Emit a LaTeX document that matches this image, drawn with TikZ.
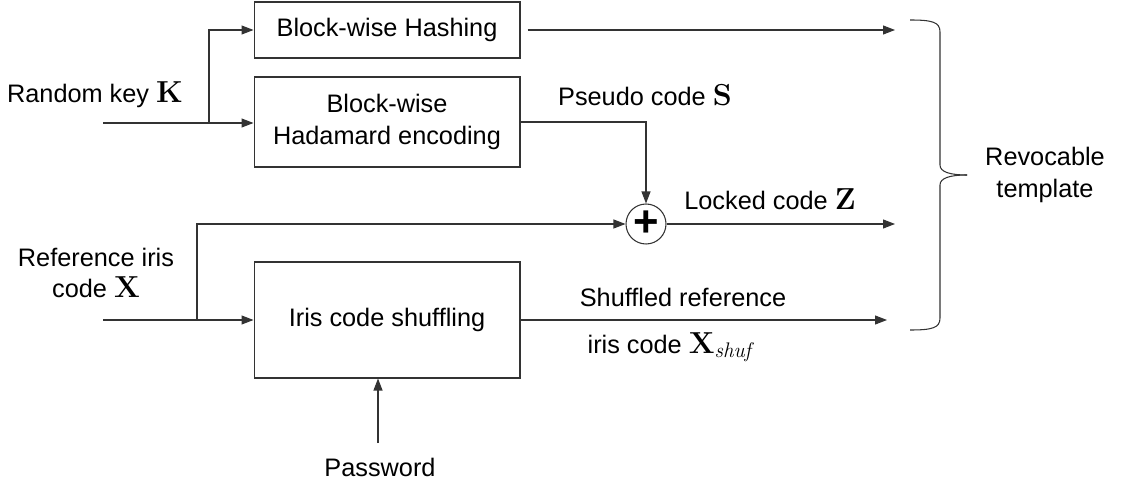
\documentclass[tikz,border=0pt]{standalone}
\usepackage{amsmath}
\usepackage[no-math]{fontspec}
\setmainfont{Liberation Sans}
\usetikzlibrary{arrows.meta}
\usetikzlibrary{positioning}

\newcommand{\bigsym}[1]{{\LARGE$\mathbf{#1}$}}

\begin{document}
\begin{tikzpicture}[x=0.02cm,y=-0.02cm,>={Triangle[length=2.4mm,width=1.8mm]},
                line width=0.6pt,draw=black!80,font=\Large,
                block/.style={rectangle,draw,minimum width=5.32cm,align=center},
                sum node/.style={circle,draw,minimum size=0.8cm,inner sep=0pt,font=\Huge\bfseries},
                label node/.style={align=center,inner sep=1pt}]

        \useasboundingbox (0,0) rectangle (1125,489);

        % blocks
        \node[block,minimum height=1.12cm] (hash) at (387,30) {Block-wise Hashing};
        \node[block,minimum height=1.8cm] (hada) at (387,122) {Block-wise\\Hadamard encoding};
        \node[block,minimum height=2.32cm] (shuf) at (387,320) {Iris code shuffling};
        \node[sum node] (xor) at (646,224) {+};

        % labels
        \node[label node] (key) at (95,95) {Random key \bigsym{K}};
        \node[label node] (ref) at (96,273) {Reference iris\\code \bigsym{X}};
        \node[label node] (pseudo) at (645,95) {Pseudo code \bigsym{S}};
        \node[label node] (locked) at (770,199) {Locked code \bigsym{Z}};
        \node[label node] (shufa) at (683,297) {Shuffled reference};
        \node[label node] (shufb) at (672,347) {iris code {\LARGE$\mathbf{X}_{\mathit{shuf}}$}};
        \node[label node] (pwd) at (380,467) {Password};
        \node[label node] (rev) at (1045,175) {Revocable\\template};

        \coordinate (kin) at (103,123);
        \coordinate (kbr) at (209,123);
        \coordinate (xin) at (103,320);
        \coordinate (xbr) at (197,320);
        \coordinate (outa) at (895,0);
        \coordinate (outb) at (887,0);
        \coordinate (pin) at (378,443);

        % connectors
        \draw[->] (kin) -- (kin -| hada.west);
        \draw[->] (kbr) |- (hash.west);
        \draw[->] (xin) -- (xin -| shuf.west);
        \draw[->] (xbr) |- (xor.west);
        \draw[->] (hada.east) -| (xor.north);
        \draw[->,shorten <=4pt] (hash.east) -- (hash.east -| outa);
        \draw[->] (xor.east) -- (xor.east -| outa);
        \draw[->] (shuf.east) -- (shuf.east -| outb);
        \draw[->] (pin) -- (pin |- shuf.south);

        % brace
        \draw (910,20) .. controls (932,20) and (940,22) .. (940,32) -- (940,165)
              .. controls (940,172) and (950,175) .. (967,175);
        \draw (967,175) .. controls (950,175) and (940,178) .. (940,185) -- (940,318)
              .. controls (940,328) and (932,330) .. (910,330);

\end{tikzpicture}
\end{document}
